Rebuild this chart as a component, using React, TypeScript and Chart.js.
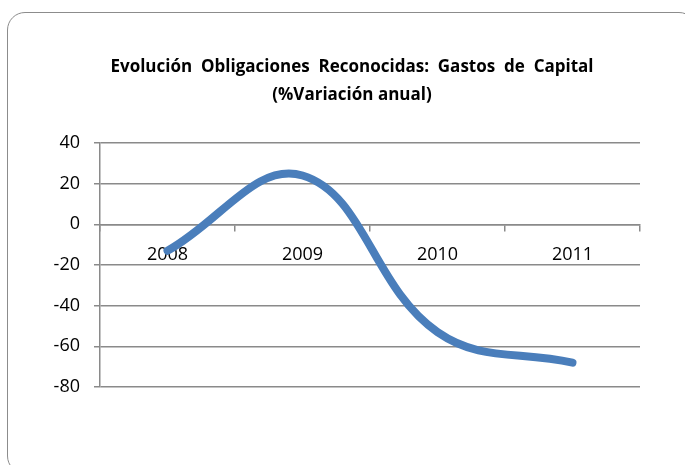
import React, { useEffect, useRef } from "react";
import { Chart, registerables } from "chart.js";

Chart.register(...registerables);

const categories: string[] = ["2008", "2009", "2010", "2011"];
const variacion: number[] = [-13, 24, -53, -68];
const yTicks: number[] = [40, 20, 0, -20, -40, -60, -80];
const titleLines: string[] = [
  "Evolución  Obligaciones  Reconocidas:  Gastos  de  Capital",
  "(%Variación anual)",
];

const FONT = "'Open Sans', 'Noto Sans', 'Liberation Sans', sans-serif";
const GRID = "#8a8a8a";

const titlePlugin = {
  id: "centeredTitle",
  afterDraw(chart: any) {
    const ctx = chart.ctx;
    ctx.save();
    ctx.fillStyle = "#000";
    ctx.font = `bold 17px ${FONT}`;
    ctx.textAlign = "center";
    ctx.textBaseline = "middle";
    titleLines.forEach((line, i) => {
      ctx.fillText(line, 352, 67 + i * 28);
    });
    ctx.restore();
  },
};

export default function App() {
  const ref = useRef<HTMLCanvasElement | null>(null);

  useEffect(() => {
    const canvas = ref.current;
    if (!canvas) return;
    const chart = new Chart(canvas, {
      type: "line",
      data: {
        labels: categories,
        datasets: [
          {
            label: "%Variación anual",
            data: variacion,
            borderColor: "#4a7ebb",
            borderWidth: 8,
            borderCapStyle: "round",
            borderJoinStyle: "round",
            pointRadius: 0,
            pointHoverRadius: 0,
            tension: 0.4,
            fill: false,
          },
        ],
      },
      options: {
        responsive: false,
        animation: false,
        events: [],
        layout: { padding: { left: 0, right: 45, top: 143, bottom: 78 } },
        plugins: {
          legend: { display: false },
          tooltip: { enabled: false },
          title: { display: false },
        },
        scales: {
          x: {
            type: "category",
            position: { y: 0 } as any,
            offset: true,
            grid: {
              display: true,
              offset: true,
              drawOnChartArea: false,
              drawTicks: true,
              tickLength: 6,
              color: GRID,
              lineWidth: 1.5,
            },
            border: { display: true, color: GRID, width: 1.5 },
            ticks: {
              color: "#000",
              font: { family: FONT, size: 18 },
              padding: 14,
              maxRotation: 0,
            },
          },
          y: {
            min: -80,
            max: 40,
            afterBuildTicks: (scale: any) => {
              scale.ticks = yTicks.map((v) => ({ value: v }));
            },
            afterFit: (scale: any) => {
              scale.width = 100;
            },
            grid: {
              color: GRID,
              lineWidth: 1.5,
              drawTicks: true,
              tickLength: 6,
            },
            border: { display: true, color: GRID, width: 1.5 },
            ticks: {
              color: "#000",
              font: { family: FONT, size: 18 },
              padding: 14,
            },
          },
        },
      },
      plugins: [titlePlugin],
    });
    return () => chart.destroy();
  }, []);

  return (
    <div
      style={{
        position: "fixed",
        left: 0,
        top: 0,
        width: 685,
        height: 465,
        background: "#fff",
        overflow: "hidden",
      }}
    >
      <div
        style={{
          position: "absolute",
          left: 7,
          top: 12,
          width: 690,
          height: 462,
          border: "1.5px solid #8c8c8c",
          borderRadius: 18,
          boxSizing: "border-box",
        }}
      />
      <canvas
        ref={ref}
        width={685}
        height={465}
        style={{ position: "absolute", left: 0, top: 0, width: 685, height: 465 }}
      />
    </div>
  );
}
